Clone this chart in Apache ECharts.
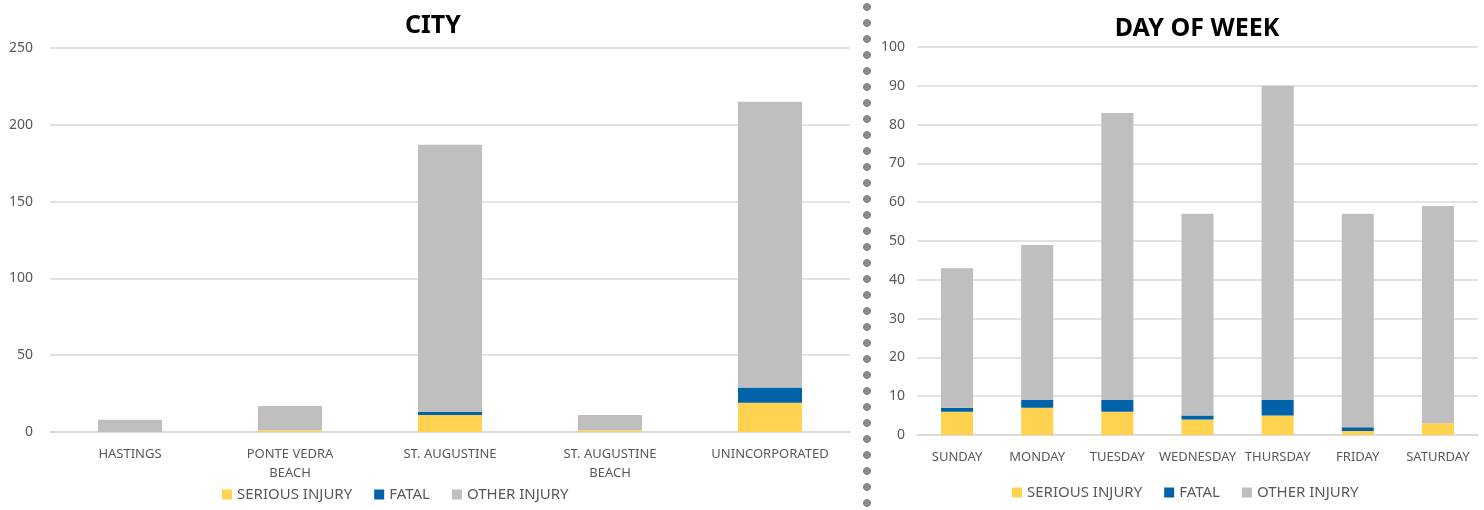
<!DOCTYPE html>
<html>
<head>
<meta charset="utf-8">
<script src="https://cdn.jsdelivr.net/npm/echarts@6/dist/echarts.min.js"></script>
<style>
	html, body { margin: 0; padding: 0; background: #fff; overflow: hidden; }
	#main { width: 1484px; height: 510px; position: relative; }
	#dots {
		position: absolute; left: 862px; top: -1px; width: 10px; height: 512px;
		background-image: radial-gradient(circle, #8a8a8a 3.7px, transparent 4.3px);
		background-size: 10px 16px; background-repeat: repeat-y;
	}
</style>
</head>
<body>
<div id="main"></div>
<div id="dots"></div>
<script>
// city data
var cityNames = ['HASTINGS', 'PONTE VEDRA\nBEACH', 'ST. AUGUSTINE', 'ST. AUGUSTINE\nBEACH', 'UNINCORPORATED'];
var citySerious = [0, 1, 11, 1, 19];
var cityFatal = [0, 0, 2, 0, 10];
var cityOther = [8, 16, 174, 10, 186];

// day of week data
var dayNames = ['SUNDAY', 'MONDAY', 'TUESDAY', 'WEDNESDAY', 'THURSDAY', 'FRIDAY', 'SATURDAY'];
var daySerious = [6, 7, 6, 4, 5, 1, 3];
var dayFatal = [1, 2, 3, 1, 4, 1, 0];
var dayOther = [36, 40, 74, 52, 81, 55, 56];

var seriesNames = ['SERIOUS INJURY', 'FATAL', 'OTHER INJURY'];
var colors = ['#FFD34F', '#0063AA', '#BFBFBF'];

var font = '"Noto Sans", sans-serif';

var chart = echarts.init(document.getElementById('main'));

function catAxis(idx, data) {
	return {
		type : 'category',
		gridIndex : idx,
		data : data,
		axisTick : { show : false },
		axisLine : { lineStyle : { color : '#d9d9d9', width : 1.5 } },
		axisLabel : { color : '#595959', fontSize : 13, fontFamily : font, margin : 13, lineHeight : 19, interval : 0 }
	};
}

function valAxis(idx, max, interval, margin) {
	return {
		type : 'value',
		gridIndex : idx,
		min : 0,
		max : max,
		interval : interval,
		axisLine : { show : false },
		axisTick : { show : false },
		axisLabel : { color : '#595959', fontSize : 14, fontFamily : font, margin : margin },
		splitLine : { lineStyle : { color : '#d9d9d9', width : 1.5 } }
	};
}

function bars(idx, values, barWidth) {
	return values.map(function(v, i) {
		return {
			name : seriesNames[i],
			type : 'bar',
			stack : 'total' + idx,
			xAxisIndex : idx,
			yAxisIndex : idx,
			barWidth : barWidth,
			itemStyle : { color : colors[i] },
			data : v
		};
	});
}

var legendBase = {
	data : seriesNames,
	icon : 'rect',
	itemWidth : 10,
	itemHeight : 10,
	itemGap : 22,
	textStyle : { color : '#595959', fontSize : 15, fontFamily : font }
};

option = {
	animation : false,
	color : colors,
	title : [
		{ text : 'CITY', left : 428, top : 8, textAlign : 'center',
		  textStyle : { fontSize : 25, fontWeight : 'bold', color : '#000', fontFamily : font } },
		{ text : 'DAY OF WEEK', left : 1192, top : 11, textAlign : 'center',
		  textStyle : { fontSize : 25, fontWeight : 'bold', color : '#000', fontFamily : font } }
	],
	legend : [
		echarts.util.extend({ left : 217, top : 482 }, legendBase),
		echarts.util.extend({ left : 1007, top : 480 }, legendBase)
	],
	grid : [
		{ left : 50, top : 48, width : 800, height : 384 },
		{ left : 917, top : 47, width : 561, height : 388 }
	],
	xAxis : [ catAxis(0, cityNames), catAxis(1, dayNames) ],
	yAxis : [ valAxis(0, 250, 50, 17), valAxis(1, 100, 10, 12) ],
	series : bars(0, [citySerious, cityFatal, cityOther], '40%')
		.concat(bars(1, [daySerious, dayFatal, dayOther], '40%'))
};
chart.setOption(option);
</script>
</body>
</html>
